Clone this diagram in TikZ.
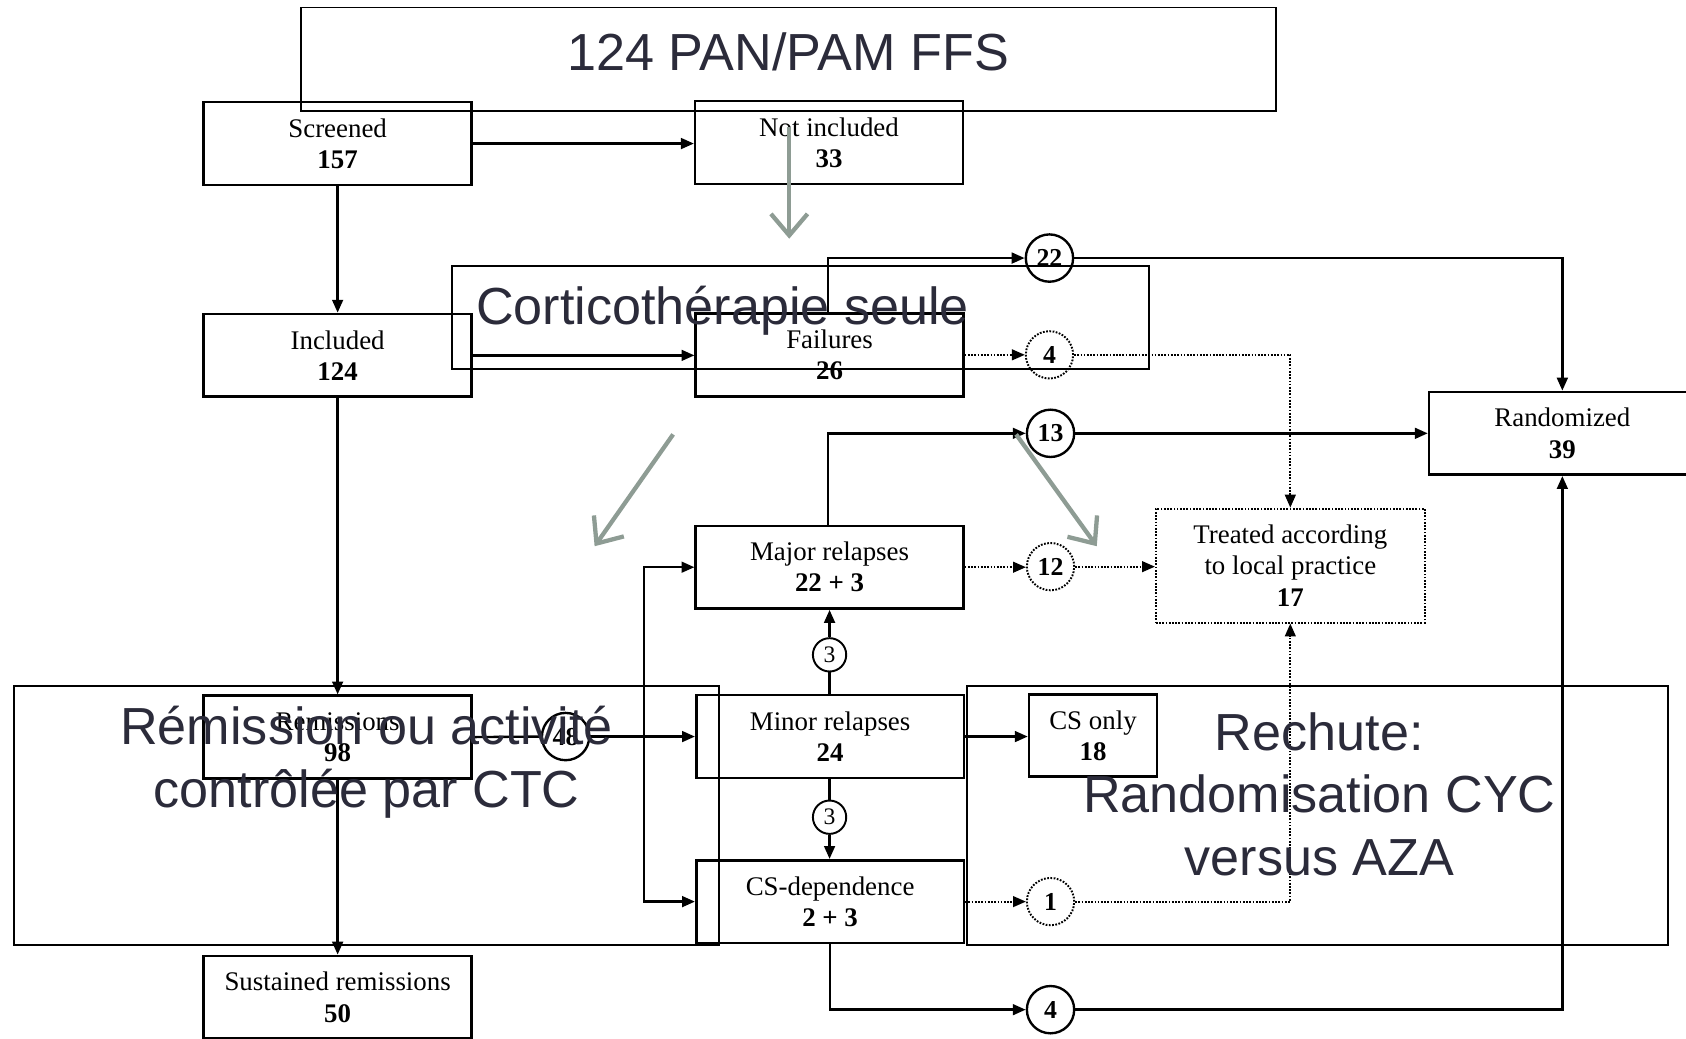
\documentclass[tikz,border=0pt]{standalone}
\usepackage{fontspec}
\setmainfont{Liberation Serif}
\newfontfamily\ovfont{Liberation Sans}
\usetikzlibrary{arrows.meta}
\definecolor{ovcol}{HTML}{2B2B3A}
\definecolor{gcol}{HTML}{8E9C94}
\begin{document}
\begin{tikzpicture}[x=1pt,y=-1pt,
  box/.style={draw, line width=2.4pt, minimum width=249pt, minimum height=77pt, inner sep=0pt, align=center, font=\fontsize{25}{29}\selectfont},
  dbox/.style={box, line width=1.8pt, dash pattern=on 1.6pt off 1.4pt},
  circ/.style={draw, circle, line width=2.2pt, minimum size=44pt, inner sep=0pt, font=\bfseries\fontsize{24}{24}\selectfont},
  dcirc/.style={circ, line width=1.8pt, dash pattern=on 1.6pt off 1.4pt},
  scirc/.style={circ, minimum size=31pt, line width=1.8pt, font=\fontsize{22}{22}\selectfont},
  conn/.style={line width=2.2pt, -{Triangle[length=12pt,width=10pt]}},
  plainln/.style={line width=2.2pt},
  dconn/.style={line width=1.8pt, dash pattern=on 1.6pt off 1.4pt, -{Triangle[length=12pt,width=10pt]}},
  ov/.style={draw, line width=1.8pt, inner sep=0pt},
  ovtext/.style={text=ovcol, font=\ovfont\fontsize{48.5}{58}\selectfont, align=center, inner sep=0pt},
  garrow/.style={draw=gcol, line width=4pt, -{Straight Barb[length=20pt,width=34pt]}}
]
\useasboundingbox (0,0) rectangle (1568,966);

% main boxes
\node[box] (scr) at (314,133.5) {Screened\\\textbf{157}};
\node[box] (notinc) at (771,132.5) {Not included\\\textbf{33}};
\node[box] (inc) at (314,330.5) {Included\\\textbf{124}};
\node[box] (fail) at (771.5,330) {Failures\\\textbf{26}};
\node[box] (maj) at (771.5,527.5) {Major relapses\\\textbf{22 + 3}};
\node[box] (minr) at (772,685) {Minor relapses\\\textbf{24}};
\node[box] (csdep) at (772,838.5) {CS-dependence\\\textbf{2 + 3}};
\node[box] (rem) at (314,685.5) {Remissions\\\textbf{98}};
\node[box] (sus) at (314,927.5) {Sustained remissions\\\textbf{50}};
\node[box, minimum width=248pt] (rand) at (1453,403) {Randomized\\\textbf{39}};
\node[dbox, minimum width=250pt, minimum height=106pt] (treat) at (1200,526) {Treated according\\to local practice\\\textbf{17}};
\node[box, minimum width=119pt, minimum height=76pt] (cso) at (1016.5,684) {CS only\\\textbf{18}};

% circles
\node[circ] (c22) at (976,240) {22};
\node[dcirc] (c4a) at (976,330) {4};
\node[circ] (c13) at (977,403) {13};
\node[dcirc] (c12) at (977,527) {12};
\node[scirc] (c3a) at (771.5,609) {3};
\node[circ] (c48) at (526,685) {48};
\node[scirc] (c3b) at (771.5,760) {3};
\node[dcirc] (c1) at (977,838.5) {1};
\node[circ] (c4b) at (977,939) {4};

% connectors
\draw[conn] (scr.east) -- (scr.east -| notinc.west);
\draw[conn] (scr.south) -- (inc.north);
\draw[conn] (inc.east) -- (inc.east -| fail.west);
\draw[conn] (fail.north -| 770,0) |- (c22.west);
\draw[conn] (c22.east) -| (rand.north);
\draw[dconn] (fail.east) -- (c4a.west);
\draw[dconn] (c4a.east) -| (treat.north);
\draw[conn] (maj.north -| 770,0) |- (c13.west);
\draw[conn] (c13.east) -- (rand.west);
\draw[dconn] (maj.east) -- (maj.east -| c12.west);
\draw[dconn] (c12.east) -- (c12.east -| treat.west);
\draw[plainln] (minr.north -| c3a.south) -- (c3a.south);
\draw[conn] (c3a.north) -- (c3a.north |- maj.south);
\draw[plainln] (minr.south -| c3b.north) -- (c3b.north);
\draw[conn] (c3b.south) -- (c3b.south |- csdep.north);
\draw[conn] (minr.east) -- (minr.east -| cso.west);
\draw[conn] (inc.south) -- (rem.north);
\draw[plainln] (rem.east) -- (c48.west);
\draw[conn] (c48.east) -- (c48.east -| minr.west);
\coordinate (j) at (599,685);
\draw[conn] (j) |- (maj.west);
\draw[conn] (j) |- (csdep.west);
\draw[conn] (rem.south) -- (sus.north);
\draw[dconn] (csdep.east) -- (c1.west);
\draw[dconn] (c1.east) -| (treat.south);
\draw[conn] (csdep.south) |- (c4b.west);
\draw[conn] (c4b.east) -| (rand.south);

% overlay frames
\node[ov, minimum width=907pt, minimum height=96pt] (ovtop) at (733.5,55) {};
\node[ov, minimum width=649pt, minimum height=96pt] (ovcort) at (744.5,295) {};
\node[ov, minimum width=656pt, minimum height=241pt] (ovrem) at (341,758.5) {};
\node[ov, minimum width=652pt, minimum height=241pt] (ovrech) at (1225,758.5) {};

% gray arrows
\coordinate (g1a) at (734,118);
\coordinate (g1b) at (734,222);
\coordinate (g2a) at (626,404);
\coordinate (g2b) at (553,508);
\coordinate (g3a) at (945,404);
\coordinate (g3b) at (1020,508);
\draw[garrow] (g1a) -- (g1b);
\draw[garrow] (g2a) -- (g2b);
\draw[garrow] (g3a) -- (g3b);

% overlay texts
\node[ovtext] (ttop) at (733,48) {124 PAN/PAM FFS};
\node[ovtext] (tcort) at (672,289) {Corticothérapie seule};
\node[ovtext] (trem) at (341,709) {Rémission ou activité\\contrôlée par CTC};
\node[ovtext] (trech) at (1227,738.5) {Rechute:\\Randomisation CYC\\versus AZA};
\end{tikzpicture}
\end{document}
